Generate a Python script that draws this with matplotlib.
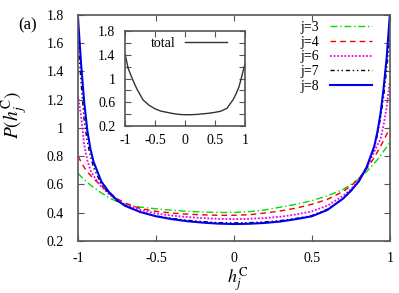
import matplotlib
matplotlib.use("Agg")
import matplotlib.pyplot as plt
from matplotlib.ticker import MultipleLocator

plt.rcParams['font.family'] = ['Liberation Serif', 'DejaVu Serif']
plt.rcParams['mathtext.fontset'] = 'stix'

# data
x = [-1, -0.98, -0.96, -0.94, -0.92, -0.9, -0.85, -0.8, -0.75, -0.7, -0.6, -0.5,
     -0.4, -0.3, -0.2, -0.1, 0, 0.1, 0.2, 0.3, 0.4, 0.5, 0.6, 0.7, 0.75, 0.8,
     0.85, 0.9, 0.92, 0.94, 0.96, 0.98, 1]
p_j3 = [0.68, 0.655, 0.635, 0.615, 0.595, 0.58, 0.54, 0.505, 0.48, 0.46, 0.44, 0.428,
        0.418, 0.41, 0.405, 0.402, 0.402, 0.408, 0.42, 0.44, 0.46, 0.485, 0.52, 0.565,
        0.6, 0.64, 0.69, 0.75, 0.775, 0.805, 0.835, 0.865, 0.9]
p_j4 = [0.8, 0.76, 0.72, 0.69, 0.665, 0.64, 0.59, 0.545, 0.5, 0.47, 0.43, 0.41,
        0.398, 0.39, 0.385, 0.382, 0.382, 0.386, 0.398, 0.413, 0.433, 0.46, 0.495, 0.55,
        0.59, 0.64, 0.71, 0.79, 0.83, 0.87, 0.91, 0.955, 1.0]
p_j6 = [1.23, 1.08, 0.88, 0.77, 0.7, 0.66, 0.585, 0.53, 0.49, 0.46, 0.42, 0.395,
        0.38, 0.37, 0.362, 0.357, 0.355, 0.357, 0.363, 0.372, 0.388, 0.41, 0.45, 0.52,
        0.565, 0.63, 0.715, 0.83, 0.88, 0.92, 1.02, 1.15, 1.33]
p_j7 = [1.62, 1.32, 1.05, 0.9, 0.8, 0.72, 0.6, 0.535, 0.485, 0.45, 0.405, 0.378,
        0.36, 0.347, 0.337, 0.33, 0.328, 0.33, 0.335, 0.345, 0.36, 0.38, 0.425, 0.5,
        0.555, 0.62, 0.715, 0.86, 0.95, 1.07, 1.22, 1.42, 1.65]
p_j8 = [1.78, 1.45, 1.18, 0.98, 0.85, 0.76, 0.62, 0.545, 0.49, 0.45, 0.405, 0.375,
        0.355, 0.34, 0.33, 0.323, 0.32, 0.322, 0.328, 0.338, 0.355, 0.375, 0.42, 0.5,
        0.555, 0.62, 0.72, 0.87, 0.97, 1.1, 1.28, 1.5, 1.8]

x_tot = [-1, -0.95, -0.9, -0.85, -0.8, -0.7, -0.6, -0.5, -0.4, -0.3, -0.2, -0.1, 0,
         0.1, 0.2, 0.3, 0.4, 0.5, 0.6, 0.7, 0.8, 0.85, 0.9, 0.95, 1]
p_tot = [1.42, 1.18, 1.05, 0.93, 0.82, 0.64, 0.55, 0.49, 0.45, 0.43, 0.41, 0.395, 0.39,
         0.39, 0.395, 0.405, 0.415, 0.43, 0.45, 0.5, 0.64, 0.74, 0.86, 1.05, 1.25]

series = [
    ('j=3', p_j3, '#00dd00', (0, (5, 2, 1, 2)), 1.0),
    ('j=4', p_j4, '#ee0000', (0, (4, 3)), 1.0),
    ('j=6', p_j6, '#ee00ee', (0, (1, 1)), 1.3),
    ('j=7', p_j7, 'black', (0, (3, 2, 1, 2, 1, 2)), 1.0),
    ('j=8', p_j8, '#0000ee', '-', 1.5),
]

spine_col = '#555555'

fig = plt.figure(figsize=(3.99, 2.93), dpi=100)
ax = fig.add_axes([0.1955, 0.1775, 0.7815, 0.7713])

for lab, yv, col, ls, lw in series:
    ax.plot(x, yv, color=col, linestyle=ls, linewidth=lw, label=lab)

ax.set_xlim(-1, 1)
ax.set_ylim(0.2, 1.8)
ax.set_xticks([-1, -0.5, 0, 0.5, 1])
ax.set_xticklabels(['-1', '-0.5', '0', '0.5', '1'])
ax.set_yticks([0.2, 0.4, 0.6, 0.8, 1.0, 1.2, 1.4, 1.6, 1.8])
ax.set_yticklabels(['0.2', '0.4', '0.6', '0.8', '1', '1.2', '1.4', '1.6', '1.8'])
ax.tick_params(direction='in', top=True, right=True, length=4, width=0.8,
               color=spine_col, labelsize=10)
ax.tick_params(axis='y', pad=10)
ax.tick_params(axis='x', pad=8)
for s in ax.spines.values():
    s.set_color(spine_col)
    s.set_linewidth(1.2)

ax.set_ylabel(r'$P(h_j^{\rm C})$', fontsize=14)
ax.yaxis.set_label_coords(-0.155, 0.56)
ax.set_xlabel(r'$h_j^{\rm C}$', fontsize=13)
ax.xaxis.set_label_coords(0.513, -0.11)

leg = ax.legend(loc='upper right', bbox_to_anchor=(0.942, 0.973), frameon=False,
                markerfirst=False, fontsize=10, handlelength=3.0, handletextpad=0.8,
                labelspacing=0.12, borderpad=0, borderaxespad=0)

fig.text(0.068, 0.915, '(a)', fontsize=12, ha='center', va='center')

# inset with the total distribution
ins = fig.add_axes([0.3133, 0.57, 0.3007, 0.324])
ins.plot(x_tot, p_tot, color='#333333', linewidth=1.0, label='total')
ins.set_xlim(-1, 1)
ins.set_ylim(0.2, 1.8)
ins.set_xticks([-1, -0.5, 0, 0.5, 1])
ins.set_xticklabels(['-1', '-0.5', '0', '0.5', '1'])
ins.set_yticks([0.2, 0.6, 1.0, 1.4, 1.8])
ins.set_yticklabels(['0.2', '0.6', '1', '1.4', '1.8'])
ins.yaxis.set_minor_locator(MultipleLocator(0.2))
ins.tick_params(which='both', direction='in', top=True, right=True, color=spine_col,
                labelsize=10)
ins.tick_params(which='major', length=4, width=0.8)
ins.tick_params(which='minor', length=4, width=0.8)
ins.tick_params(axis='y', pad=7)
ins.tick_params(axis='x', pad=6)
for s in ins.spines.values():
    s.set_color(spine_col)
    s.set_linewidth(1.2)
ins.legend(loc='upper right', bbox_to_anchor=(0.85, 0.94), frameon=False,
           markerfirst=False, fontsize=10, handlelength=3.0, handletextpad=0.7,
           borderpad=0, borderaxespad=0)

fig.savefig('out.png', dpi=100)
